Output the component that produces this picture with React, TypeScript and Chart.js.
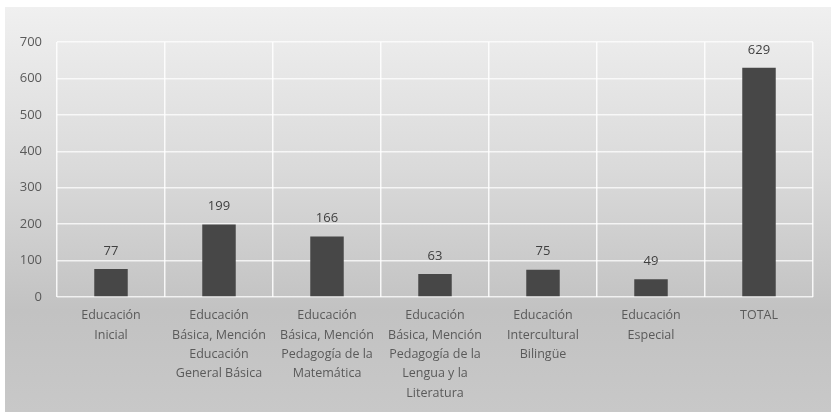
import React, { useEffect, useRef } from "react";
import { Chart, registerables } from "chart.js";

Chart.register(...registerables);

const categories: string[][] = [
  ["Educación", "Inicial"],
  ["Educación", "Básica, Mención", "Educación", "General Básica"],
  ["Educación", "Básica, Mención", "Pedagogía de la", "Matemática"],
  ["Educación", "Básica, Mención", "Pedagogía de la", "Lengua y la", "Literatura"],
  ["Educación", "Intercultural", "Bilingüe"],
  ["Educación", "Especial"],
  ["TOTAL"],
];
const values: number[] = [77, 199, 166, 63, 75, 49, 629];
const yTicks: number[] = [0, 100, 200, 300, 400, 500, 600, 700];

const FONT = "'Open Sans', 'Noto Sans', sans-serif";

const dataLabels = {
  id: "dataLabels",
  afterDatasetsDraw(chart: any) {
    const ctx = chart.ctx;
    const meta = chart.getDatasetMeta(0);
    ctx.save();
    ctx.font = `13px ${FONT}`;
    ctx.fillStyle = "#404040";
    ctx.textAlign = "center";
    ctx.textBaseline = "middle";
    meta.data.forEach((bar: any, i: number) => {
      ctx.fillText(String(values[i]), bar.x, bar.y - 18);
    });
    ctx.restore();
  },
};

export default function App() {
  const ref = useRef<HTMLCanvasElement | null>(null);
  useEffect(() => {
    if (!ref.current) return;
    const chart = new Chart(ref.current, {
      type: "bar",
      data: {
        labels: categories,
        datasets: [
          {
            data: values,
            backgroundColor: "#474747",
            borderWidth: 0,
            categoryPercentage: 1,
            barPercentage: 0.31,
          },
        ],
      },
      options: {
        animation: false,
        responsive: true,
        maintainAspectRatio: false,
        layout: { padding: { top: 35, right: 18, left: 0, bottom: 0 } },
        plugins: { legend: { display: false }, tooltip: { enabled: false } },
        scales: {
          x: {
            grid: { color: "rgba(255,255,255,0.85)", lineWidth: 1.5, drawTicks: false, offset: true },
            border: { display: false },
            ticks: {
              color: "#5a5a5a",
              font: { family: FONT, size: 12.5, lineHeight: 1.55 },
              padding: 9,
              maxRotation: 0,
              autoSkip: false,
            },
            afterFit(scale: any) {
              scale.height = 115;
            },
          },
          y: {
            min: 0,
            max: 700,
            afterBuildTicks(scale: any) {
              scale.ticks = yTicks.map((v) => ({ value: v }));
            },
            grid: { color: "rgba(255,255,255,0.75)", lineWidth: 1.5, drawTicks: false },
            border: { display: false },
            ticks: {
              color: "#5a5a5a",
              font: { family: FONT, size: 13 },
              padding: 15,
            },
            afterFit(scale: any) {
              scale.width = 52;
            },
          },
        },
      },
      plugins: [dataLabels],
    });
    return () => chart.destroy();
  }, []);

  return (
    <div
      style={{
        position: "absolute",
        left: 5,
        top: 7,
        width: 826,
        height: 405,
        background: "linear-gradient(to bottom, #f0f0f0 0%, #dadada 40%, #c2c2c2 75%, #c8c8c8 100%)",
      }}
    >
      <canvas ref={ref} />
    </div>
  );
}
